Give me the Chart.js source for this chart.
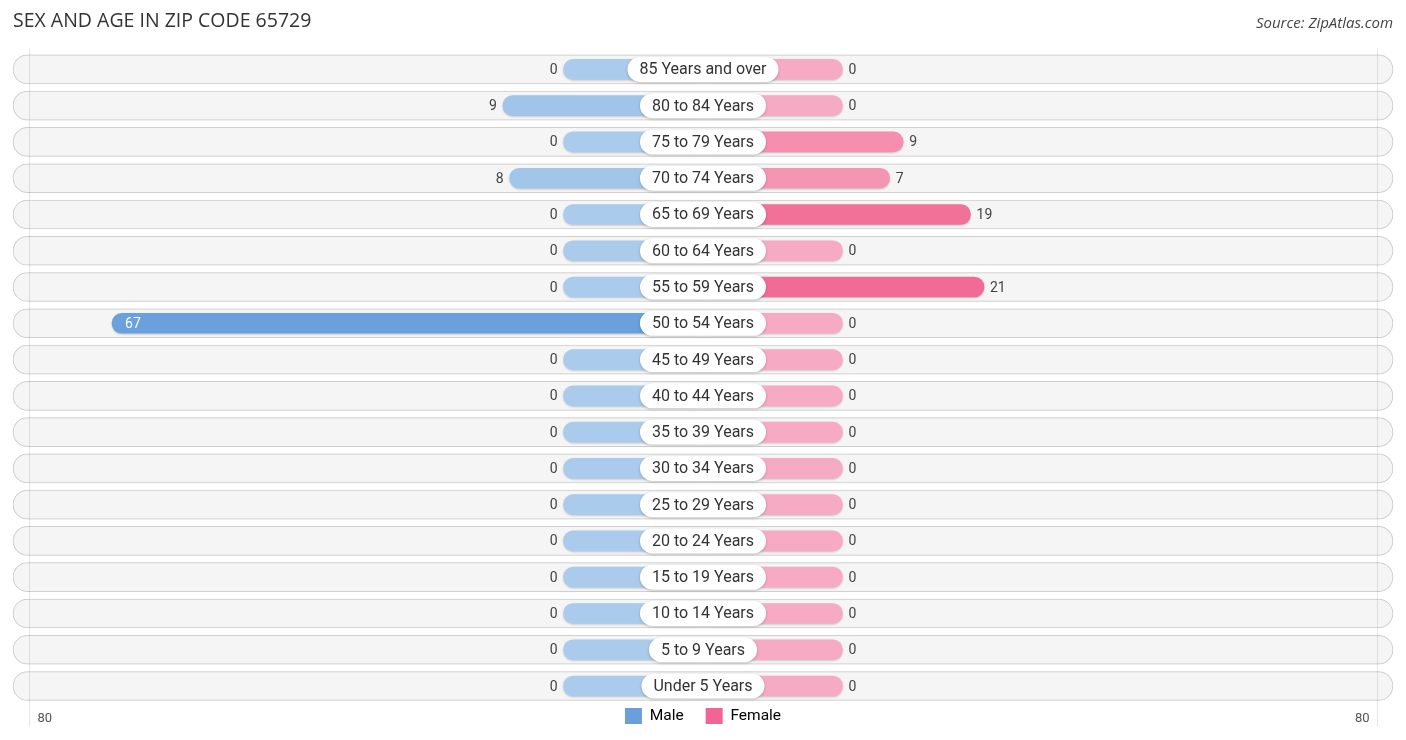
<!DOCTYPE html>
<html>
<head>
<meta charset="utf-8">
<script src="https://cdn.jsdelivr.net/npm/chart.js@4.4.0/dist/chart.umd.min.js"></script>
<style>
html,body{margin:0;padding:0;background:#fff;}
#wrap{position:relative;width:1406px;height:740px;}
</style>
</head>
<body>
<div id="wrap"><canvas id="c"></canvas></div>
<script>
// ---- data ----
const TITLE = 'SEX AND AGE IN ZIP CODE 65729';
const SOURCE = 'Source: ZipAtlas.com';
const SERIES = ['Male', 'Female'];
const AGE_GROUPS = ['85 Years and over','80 to 84 Years','75 to 79 Years','70 to 74 Years','65 to 69 Years','60 to 64 Years','55 to 59 Years','50 to 54 Years','45 to 49 Years','40 to 44 Years','35 to 39 Years','30 to 34 Years','25 to 29 Years','20 to 24 Years','15 to 19 Years','10 to 14 Years','5 to 9 Years','Under 5 Years'];
const MALE   = [0, 9, 0, 8, 0, 0, 0, 67, 0, 0, 0, 0, 0, 0, 0, 0, 0, 0];
const FEMALE = [0, 0, 9, 7, 19, 0, 21, 0, 0, 0, 0, 0, 0, 0, 0, 0, 0, 0];
const AXIS_TICK_LABELS = ['80', '80'];
const AXIS_MAX = 80;

// ---- style constants ----
const STUB = 20.7;        // minimum visible bar length (value units) behind the centre label
const AXIS_OFFSET = 20;   // where the +-80 guide lines sit relative to the stub
const X_LIMIT = 102.4;    // half width of the scale
const MALE_LIGHT = [170, 203, 236], MALE_DARK = [106, 160, 220];
const FEMALE_LIGHT = [247, 170, 195], FEMALE_DARK = [240, 107, 149];
const MALE_LEGEND = '#6a9fdc', FEMALE_LEGEND = '#f06593';

function mix(a, b, t) { return 'rgb(' + a.map((c, i) => Math.round(c + (b[i] - c) * t)).join(',') + ')'; }
const maleMax = Math.max(...MALE), femaleMax = Math.max(...FEMALE);
const maleColors = MALE.map(v => mix(MALE_LIGHT, MALE_DARK, maleMax ? v / maleMax : 0));
const femaleColors = FEMALE.map(v => mix(FEMALE_LIGHT, FEMALE_DARK, femaleMax ? v / femaleMax : 0));

const shadowPlugin = {
  id: 'shadows',
  beforeDatasetDraw(chart, args) {
    const ctx = chart.ctx;
    ctx.save();
    if (args.index < 2) {
      ctx.shadowColor = 'rgba(0,0,0,0.18)';
      ctx.shadowBlur = 2;
      ctx.shadowOffsetY = 1;
    } else {
      ctx.shadowColor = 'rgba(0,0,0,0.12)';
      ctx.shadowBlur = 2;
      ctx.shadowOffsetY = 0;
    }
  },
  afterDatasetDraw(chart) { chart.ctx.restore(); }
};

const labelPlugin = {
  id: 'labels',
  afterDatasetsDraw(chart) {
    const ctx = chart.ctx, xs = chart.scales.x, ys = chart.scales.y;
    const cx = xs.getPixelForValue(0);
    const area = chart.chartArea;
    ctx.save();
    // faint axis lines at +-80
    ctx.strokeStyle = 'rgba(0,0,0,0.10)';
    ctx.lineWidth = 1;
    const gl = Math.round(xs.getPixelForValue(-(AXIS_MAX + AXIS_OFFSET))) + 0.5;
    const gr = Math.round(xs.getPixelForValue(AXIS_MAX + AXIS_OFFSET)) + 0.5;
    [gl, gr].forEach(g => { ctx.beginPath(); ctx.moveTo(g, area.top - 21); ctx.lineTo(g, area.bottom + 40); ctx.stroke(); });
    ctx.fillStyle = '#555';
    ctx.font = '13px Roboto';
    ctx.textBaseline = 'middle';
    ctx.textAlign = 'left';
    ctx.fillText(AXIS_TICK_LABELS[0], gl + 8, area.bottom + 33);
    ctx.textAlign = 'right';
    ctx.fillText(AXIS_TICK_LABELS[1], gr - 8, area.bottom + 33);

    AGE_GROUPS.forEach((lab, i) => {
      const y = ys.getPixelForValue(i);
      // value labels
      ctx.font = '14px Roboto';
      const mEnd = xs.getPixelForValue(-(STUB + MALE[i]));
      if (cx - mEnd > 300) {
        ctx.fillStyle = '#fff';
        ctx.textAlign = 'left';
        ctx.fillText(String(MALE[i]), mEnd + 13, y + 1);
      } else {
        ctx.fillStyle = '#444';
        ctx.textAlign = 'right';
        ctx.fillText(String(MALE[i]), mEnd - 6, y + 1);
      }
      const fEnd = xs.getPixelForValue(STUB + FEMALE[i]);
      ctx.fillStyle = '#444';
      ctx.textAlign = 'left';
      ctx.fillText(String(FEMALE[i]), fEnd + 6, y + 1);

      // centre pill
      ctx.font = '16px Roboto';
      const w = ctx.measureText(lab).width + 24, h = 25;
      ctx.save();
      ctx.shadowColor = 'rgba(0,0,0,0.22)';
      ctx.shadowBlur = 3;
      ctx.shadowOffsetY = 1;
      ctx.fillStyle = '#fff';
      ctx.beginPath();
      ctx.roundRect(cx - w / 2, y - h / 2, w, h, h / 2);
      ctx.fill();
      ctx.restore();
      ctx.fillStyle = '#333';
      ctx.textAlign = 'center';
      ctx.fillText(lab, cx, y + 1);
    });
    // source
    ctx.font = 'italic 15px "Open Sans"';
    ctx.fillStyle = '#444';
    ctx.textAlign = 'right';
    ctx.fillText(SOURCE, chart.width - 13, 24);
    ctx.restore();
  }
};

new Chart(document.getElementById('c'), {
  type: 'bar',
  data: {
    labels: AGE_GROUPS,
    datasets: [
      { label: SERIES[0], data: MALE.map(v => [-(STUB + v), 0]), backgroundColor: maleColors,
        barThickness: 20, borderRadius: 10, borderSkipped: false, grouped: false, order: 1, clip: false },
      { label: SERIES[1], data: FEMALE.map(v => [0, STUB + v]), backgroundColor: femaleColors,
        barThickness: 20, borderRadius: 10, borderSkipped: false, grouped: false, order: 1, clip: false },
      { label: '_row', data: AGE_GROUPS.map(() => [-X_LIMIT, X_LIMIT]), backgroundColor: '#f5f5f5',
        borderColor: '#d6d6d6', borderWidth: 1, barThickness: 29, borderRadius: 15, borderSkipped: false,
        grouped: false, order: 2, clip: false }
    ]
  },
  options: {
    indexAxis: 'y',
    responsive: true,
    maintainAspectRatio: false,
    animation: false,
    layout: { padding: { left: 13, right: 13, top: 0, bottom: 6 } },
    scales: {
      x: { display: false, min: -X_LIMIT, max: X_LIMIT },
      y: { display: false, offset: false }
    },
    plugins: {
      tooltip: { enabled: false },
      title: {
        display: true, text: TITLE, align: 'start', color: '#333',
        font: { family: '"Open Sans"', size: 19.5, weight: 'normal' },
        padding: { top: 10, bottom: 36 }
      },
      legend: {
        position: 'bottom',
        labels: {
          boxWidth: 17, boxHeight: 16, padding: 22, color: '#333',
          font: { family: 'Roboto', size: 15.5 },
          generateLabels: () => [
            { text: SERIES[0], fillStyle: MALE_LEGEND, strokeStyle: MALE_LEGEND, lineWidth: 0, datasetIndex: 0, hidden: false },
            { text: SERIES[1], fillStyle: FEMALE_LEGEND, strokeStyle: FEMALE_LEGEND, lineWidth: 0, datasetIndex: 1, hidden: false }
          ]
        }
      }
    }
  },
  plugins: [shadowPlugin, labelPlugin]
});
</script>
</body>
</html>
